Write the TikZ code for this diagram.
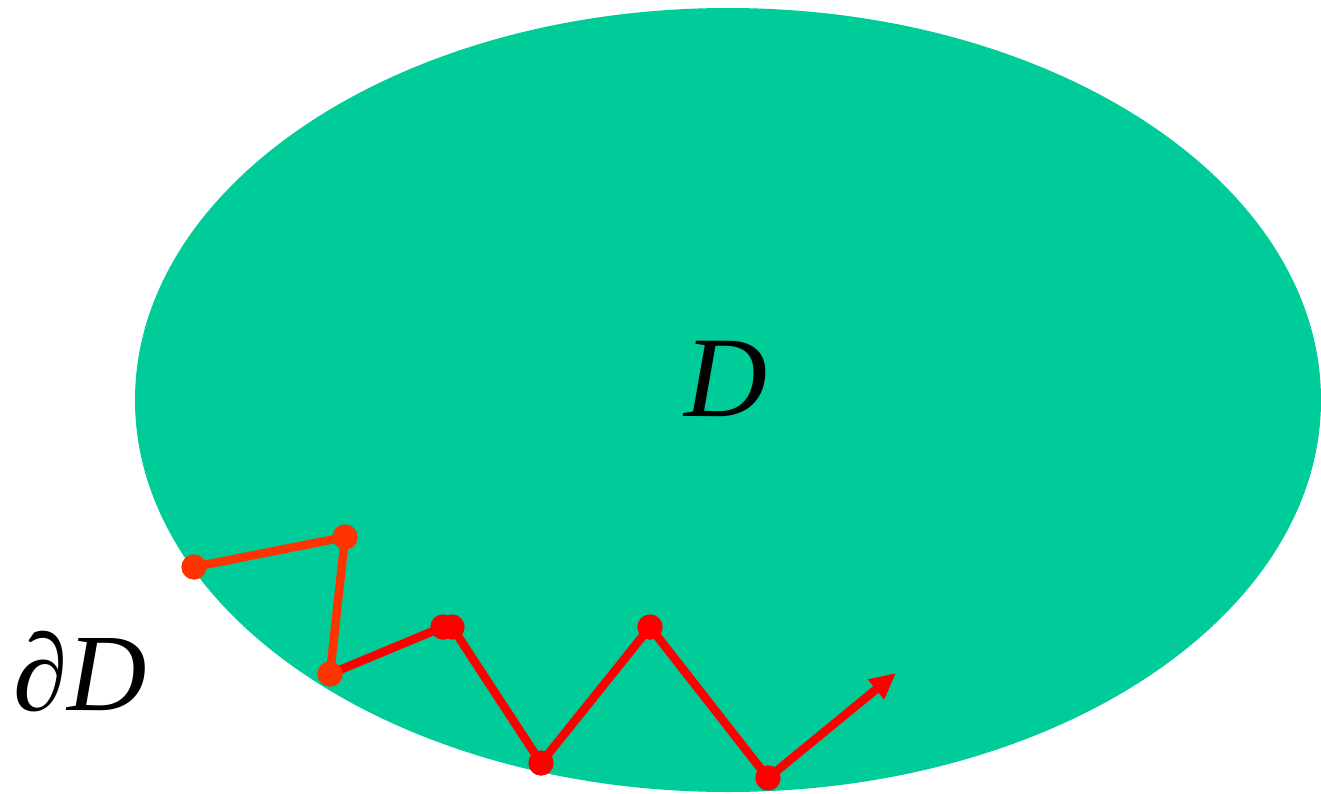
\documentclass[tikz,border=0pt]{standalone}
\usepackage{fontspec}
\setmainfont{Liberation Serif}
\usetikzlibrary{arrows.meta}
\definecolor{fillg}{HTML}{00CC99}
\definecolor{orng}{HTML}{FF3300}
\definecolor{rd}{HTML}{FF0000}
\tikzset{
  seg/.style={line width=8.5pt, line cap=round, line join=round},
  dot/.style={circle, inner sep=0pt, minimum size=25pt, fill=#1},
  lbl/.style={font=\fontsize{115}{115}\selectfont\itshape, inner sep=0pt},
  lbls/.style={font=\fontsize{110}{110}\selectfont\itshape, inner sep=0pt}
}
\begin{document}
\begin{tikzpicture}[x=1pt,y=-1pt]
\useasboundingbox (0,0) rectangle (1321,793);
\fill[fillg] (728,400) ellipse [x radius=593, y radius=392];
\node[lbl, anchor=base] (D) at (726,416) {D};
\node[lbls, anchor=base west] (dD) at (13,710) {\textup{∂}D};
\node[dot=orng] (p1) at (194,567) {};
\node[dot=orng] (p2) at (345,537) {};
\node[dot=orng] (p3) at (330,674) {};
\node[dot=rd] (p4) at (443,627) {};
\node[dot=rd] (p5) at (452,627) {};
\node[dot=rd] (p6) at (541,763) {};
\node[dot=rd] (p7) at (650,627) {};
\node[dot=rd] (p8) at (768,778) {};
\coordinate (tip) at (896,673);
\draw[seg, orng] (p1.center) -- (p2.center) -- (p3.center);
\draw[seg, rd] (p3.center) -- (p4.center) -- (p5.center) -- (p6.center) -- (p7.center) -- (p8.center);
\draw[line width=8.5pt, rd, -{Triangle[length=26pt,width=24pt]}] (p8.center) -- (tip);
\node[dot=orng] at (p1) {};
\node[dot=orng] at (p2) {};
\node[dot=orng] at (p3) {};
\node[dot=rd] at (p4) {};
\node[dot=rd] at (p5) {};
\node[dot=rd] at (p6) {};
\node[dot=rd] at (p7) {};
\node[dot=rd] at (p8) {};
\end{tikzpicture}
\end{document}
